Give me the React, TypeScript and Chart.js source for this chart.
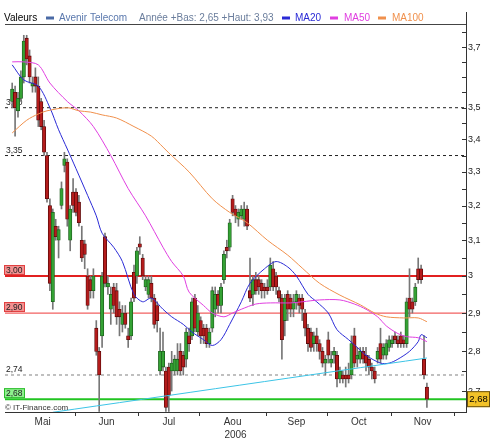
import React, { useEffect, useRef } from "react";
import { Chart, registerables } from "chart.js";

Chart.register(...registerables);

// ---- Daily candles (trading-day index 0 = early May 2006) ----
const opens = [
  3.52, 3.55, 3.49, 3.53, 3.60, 3.73, 3.67, 3.57, 3.60, 3.57,
  3.52, 3.44, 3.35, 3.20, 2.93, 3.14, 3.10, 3.20, 3.32, 3.33,
  3.10, 3.24, 3.24, 3.21, 3.10, 3.09, 3.00, 2.99, 2.96, 2.86,
  2.80, 2.84, 3.11, 2.97, 2.91, 2.97, 2.96, 2.91, 2.87, 2.90,
  2.84, 2.84, 3.01, 3.00, 3.09, 3.05, 2.97, 2.95, 2.98, 2.94,
  2.92, 2.75, 2.76, 2.75, 2.76, 2.75, 2.75, 2.75, 2.80, 2.79,
  2.78, 2.84, 2.84, 2.94, 2.85, 2.88, 2.86, 2.86, 2.82, 2.86,
  2.91, 2.95, 2.92, 2.99, 3.08, 3.08, 3.22, 3.19, 3.16, 3.17,
  3.16, 3.19, 2.96, 2.95, 2.99, 2.99, 2.98, 2.97, 2.97, 2.97,
  3.02, 3.00, 2.96, 2.94, 2.88, 2.95, 2.94, 2.91, 2.93, 2.94,
  2.94, 2.90, 2.86, 2.85, 2.82, 2.84, 2.82, 2.80, 2.77, 2.83,
  2.77, 2.79, 2.79, 2.73, 2.74, 2.74, 2.74, 2.74, 2.84, 2.78,
  2.78, 2.80, 2.79, 2.78, 2.76, 2.75, 2.78, 2.82, 2.79, 2.79,
  2.81, 2.82, 2.84, 2.83, 2.84, 2.83, 2.82, 2.94, 2.93, 2.93,
  3.02, 3.02, 2.78, 2.71,
];
const highs = [
  3.58, 3.57, 3.55, 3.62, 3.74, 3.74, 3.69, 3.60, 3.63, 3.60,
  3.53, 3.46, 3.36, 3.22, 3.19, 3.16, 3.14, 3.27, 3.36, 3.34,
  3.20, 3.28, 3.25, 3.23, 3.14, 3.10, 3.02, 3.00, 3.02, 2.88,
  2.81, 3.01, 3.12, 3.00, 2.97, 2.98, 2.98, 2.93, 2.92, 2.92,
  2.86, 2.94, 3.03, 3.08, 3.11, 3.06, 3.00, 3.00, 3.00, 2.95,
  2.93, 2.86, 2.85, 2.76, 2.77, 2.80, 2.79, 2.82, 2.82, 2.80,
  2.86, 2.86, 2.94, 2.95, 2.92, 2.89, 2.87, 2.87, 2.86, 2.97,
  2.97, 2.96, 2.98, 3.07, 3.10, 3.16, 3.23, 3.20, 3.19, 3.20,
  3.21, 3.20, 3.05, 3.00, 3.01, 3.00, 2.99, 2.98, 2.99, 3.05,
  3.04, 3.01, 2.97, 2.95, 2.95, 2.96, 2.95, 2.95, 2.96, 2.95,
  2.95, 2.91, 2.87, 2.86, 2.85, 2.86, 2.83, 2.81, 2.79, 2.85,
  2.80, 2.81, 2.80, 2.76, 2.75, 2.76, 2.77, 2.84, 2.86, 2.81,
  2.81, 2.81, 2.81, 2.79, 2.77, 2.76, 2.81, 2.86, 2.82, 2.83,
  2.84, 2.84, 2.85, 2.84, 2.85, 2.84, 2.94, 3.02, 2.94, 2.98,
  3.05, 3.03, 2.84, 2.72,
];
const lows = [
  3.50, 3.41, 3.47, 3.52, 3.58, 3.64, 3.58, 3.55, 3.55, 3.44,
  3.43, 3.35, 3.21, 2.96, 2.91, 3.10, 3.05, 3.19, 3.30, 3.14,
  3.07, 3.18, 3.17, 3.14, 3.04, 3.02, 2.91, 2.94, 2.94, 2.79,
  2.65, 2.81, 2.97, 2.95, 2.87, 2.90, 2.87, 2.84, 2.85, 2.86,
  2.81, 2.83, 2.93, 2.98, 3.06, 2.99, 2.96, 2.94, 2.93, 2.86,
  2.85, 2.74, 2.75, 2.65, 2.65, 2.70, 2.74, 2.74, 2.74, 2.74,
  2.76, 2.80, 2.83, 2.85, 2.84, 2.82, 2.82, 2.81, 2.81, 2.85,
  2.89, 2.90, 2.90, 2.98, 3.05, 3.07, 3.17, 3.15, 3.14, 3.16,
  3.14, 3.13, 2.93, 2.92, 2.95, 2.95, 2.94, 2.94, 2.95, 2.96,
  2.96, 2.95, 2.93, 2.78, 2.84, 2.88, 2.89, 2.89, 2.91, 2.90,
  2.88, 2.84, 2.80, 2.80, 2.80, 2.80, 2.78, 2.76, 2.74, 2.77,
  2.76, 2.77, 2.71, 2.72, 2.72, 2.71, 2.72, 2.73, 2.76, 2.76,
  2.77, 2.77, 2.75, 2.74, 2.73, 2.72, 2.77, 2.77, 2.78, 2.78,
  2.80, 2.81, 2.82, 2.81, 2.81, 2.81, 2.81, 2.89, 2.90, 2.92,
  2.98, 2.98, 2.73, 2.66,
];
const closes = [
  3.56, 3.50, 3.53, 3.60, 3.72, 3.66, 3.60, 3.58, 3.57, 3.46,
  3.44, 3.36, 3.22, 2.98, 3.18, 3.11, 3.13, 3.25, 3.34, 3.16,
  3.19, 3.20, 3.18, 3.15, 3.05, 3.06, 2.92, 2.96, 3.00, 2.80,
  2.74, 3.00, 2.98, 2.98, 2.95, 2.92, 2.89, 2.89, 2.90, 2.87,
  2.83, 2.93, 2.94, 3.07, 3.08, 3.00, 2.99, 2.99, 2.94, 2.87,
  2.88, 2.80, 2.80, 2.66, 2.69, 2.77, 2.78, 2.78, 2.75, 2.76,
  2.85, 2.82, 2.93, 2.86, 2.90, 2.84, 2.84, 2.82, 2.85, 2.96,
  2.95, 2.92, 2.97, 3.06, 3.07, 3.15, 3.18, 3.17, 3.18, 3.19,
  3.19, 3.14, 2.94, 2.99, 2.96, 2.97, 2.96, 2.96, 2.96, 3.03,
  2.97, 2.97, 2.94, 2.83, 2.94, 2.91, 2.91, 2.93, 2.95, 2.92,
  2.91, 2.86, 2.82, 2.81, 2.84, 2.82, 2.80, 2.77, 2.78, 2.79,
  2.78, 2.80, 2.73, 2.75, 2.73, 2.73, 2.73, 2.82, 2.77, 2.79,
  2.80, 2.78, 2.77, 2.76, 2.75, 2.73, 2.80, 2.78, 2.81, 2.82,
  2.83, 2.83, 2.83, 2.82, 2.82, 2.82, 2.93, 2.91, 2.91, 2.97,
  2.99, 2.99, 2.74, 2.68,
];

// ---- Moving averages ----
const ma20Idx = [0, 4, 9, 13, 16, 19, 22, 26, 29, 31, 35, 38, 42, 45, 48, 52, 55, 59, 62, 66, 69, 72, 75, 79, 82, 87, 91, 95, 98, 102, 105, 109, 112, 116, 119, 122, 127, 130, 133, 137, 140, 141, 143];
const ma20 = [3.64, 3.59, 3.57, 3.50, 3.43, 3.37, 3.31, 3.23, 3.17, 3.12, 3.08, 3.04, 2.95, 2.93, 2.94, 2.91, 2.89, 2.87, 2.85, 2.83, 2.815, 2.83, 2.87, 2.93, 2.98, 3.02, 3.04, 3.025, 3.0, 2.95, 2.93, 2.9, 2.856, 2.83, 2.81, 2.79, 2.77, 2.77, 2.78, 2.8, 2.825, 2.843, 2.835];
const ma50Idx = [0, 4, 9, 13, 19, 23, 28, 34, 40, 46, 52, 55, 59, 61, 66, 69, 73, 76, 79, 84, 89, 96, 100, 106, 113, 118, 122, 126, 129, 133, 136, 140, 143];
const ma50 = [3.65, 3.65, 3.64, 3.58, 3.52, 3.49, 3.44, 3.35, 3.25, 3.17, 3.08, 3.04, 3.0, 2.956, 2.92, 2.9, 2.89, 2.9, 2.91, 2.924, 2.927, 2.927, 2.93, 2.935, 2.935, 2.924, 2.91, 2.89, 2.866, 2.846, 2.838, 2.835, 2.825];
const ma100Idx = [0, 5, 9, 12, 19, 23, 27, 31, 36, 42, 48, 52, 54, 61, 69, 75, 81, 88, 95, 100, 106, 113, 120, 125, 129, 135, 140, 143];
const ma100 = [3.42, 3.46, 3.48, 3.49, 3.5, 3.49, 3.486, 3.477, 3.467, 3.44, 3.41, 3.376, 3.358, 3.3, 3.22, 3.18, 3.15, 3.1, 3.058, 3.022, 2.98, 2.948, 2.922, 2.9, 2.89, 2.887, 2.887, 2.877];

// ---- Trend line and horizontal levels ----
const trendIdx = [14, 143];
const trendVals = [2.648, 2.783];
const refLevels = [3.5, 3.35, 3.0, 2.9, 2.74, 2.68];
const refLabels = ["3,50", "3,35", "3,00", "2,90", "2,74", "2,68"];

// ---- Axes ----
const yMajorTicks = [2.7, 2.8, 2.9, 3.0, 3.1, 3.2, 3.3, 3.4, 3.5, 3.7];
const yMajorLabels = ["2,7", "2,8", "2,9", "3", "3,1", "3,2", "3,3", "3,4", "3,5", "3,7"];
const yMinorTicks = [2.75, 2.85, 2.95, 3.05, 3.15, 3.25, 3.35, 3.45, 3.55, 3.6, 3.65, 3.75];
const months = ["Mai", "Jun", "Jul", "Aou", "Sep", "Oct", "Nov"];
const monthCenters = [10.5, 32.5, 54, 76, 98, 119.5, 141.5];
const monthBounds = [21.5, 43.5, 64.5, 87.5, 108.5, 130.5, 152.5];
const yearLabel = "2006";

// ---- Legend texts ----
const legendTitle = "Valeurs";
const seriesName = "Avenir Telecom";
const rangeText = "Année +Bas: 2,65 +Haut: 3,93";
const maNames = ["MA20", "MA50", "MA100"];
const lastValue = 2.68;
const lastLabel = "2,68";
const copyright = "\u00a9 IT-Finance.com";

const X_MIN = -2.48;
const X_MAX = 156.48;
const Y_MIN = 2.6487;
const Y_MAX = 3.8206;

const FONT = '"Liberation Sans", Arial, sans-serif';
const GREEN = "#34a234";
const GREEN_EDGE = "#1c5e1c";
const RED = "#b41c1c";
const RED_EDGE = "#5a0a0a";
const MA20_C = "#2a2ad6";
const MA50_C = "#e03ee0";
const MA100_C = "#f0904c";

const refStyles = [
  { color: "#222", width: 1, dash: [3, 3], box: null },
  { color: "#222", width: 1, dash: [3, 3], box: null },
  { color: "#e22020", width: 2, dash: [], box: { fill: "#f39090", stroke: "#e04040" } },
  { color: "#f26060", width: 1.2, dash: [], box: { fill: "#f39090", stroke: "#e04040" } },
  { color: "#808080", width: 1, dash: [3, 3], box: null },
  { color: "#22c422", width: 2, dash: [], box: { fill: "#8ef08e", stroke: "#2cbc2c" } },
];

const overlay = {
  id: "overlay",
  beforeDatasetsDraw(chart: any) {
    const { ctx, scales } = chart;
    const ys = scales.y;
    ctx.save();
    ctx.font = `8.5px ${FONT}`;
    ctx.textBaseline = "alphabetic";
    refLevels.forEach((lv, i) => {
      const py = ys.getPixelForValue(lv);
      const st = refStyles[i];
      if (st.box) {
        ctx.fillStyle = st.box.fill;
        ctx.fillRect(4, py - 11, 21, 10);
        ctx.strokeStyle = st.box.stroke;
        ctx.lineWidth = 1;
        ctx.strokeRect(4.5, py - 10.5, 20, 9);
      }
      ctx.fillStyle = "#222";
      ctx.fillText(refLabels[i], 6, py - 3);
    });
    ctx.restore();
  },
  afterDraw(chart: any) {
    const { ctx, scales, chartArea } = chart;
    const ys = scales.y;
    const xs = scales.x;
    ctx.save();
    // y tick marks (inside)
    ctx.strokeStyle = "#333";
    ctx.lineWidth = 1;
    [...yMajorTicks, ...yMinorTicks].forEach((v) => {
      const py = Math.round(ys.getPixelForValue(v)) + 0.5;
      ctx.beginPath();
      ctx.moveTo(chartArea.right - 4, py);
      ctx.lineTo(chartArea.right, py);
      ctx.stroke();
    });
    // x month boundary tick marks
    monthBounds.forEach((b) => {
      const px = Math.round(xs.getPixelForValue(b)) + 0.5;
      ctx.beginPath();
      ctx.moveTo(px, chartArea.bottom);
      ctx.lineTo(px, chartArea.bottom + 4);
      ctx.stroke();
    });
    // legend
    ctx.font = `10px ${FONT}`;
    ctx.textBaseline = "alphabetic";
    ctx.fillStyle = "#000";
    ctx.fillText(legendTitle, 4, 21);
    ctx.fillStyle = "#4a6aa5";
    ctx.fillRect(46, 16.5, 8, 3);
    ctx.fillStyle = "#5a78ad";
    ctx.fillText(seriesName, 59, 21);
    ctx.fillStyle = "#6a7d9c";
    ctx.fillText(rangeText, 139, 21);
    const maCols = [MA20_C, MA50_C, MA100_C];
    const swX = [282, 330, 378];
    const txX = [295, 344, 392];
    maNames.forEach((n, i) => {
      ctx.fillStyle = maCols[i];
      ctx.fillRect(swX[i], 16.5, 8, 3);
      ctx.fillText(n, txX[i], 21);
    });
    ctx.strokeStyle = "#444";
    ctx.beginPath();
    ctx.moveTo(5, 24.5);
    ctx.lineTo(chartArea.right, 24.5);
    ctx.stroke();
    // copyright
    ctx.font = `8px ${FONT}`;
    ctx.fillStyle = "#333";
    ctx.fillText(copyright, 5, 410);
    // last value box at right
    const ly = ys.getPixelForValue(lastValue);
    ctx.fillStyle = "#f2c228";
    ctx.fillRect(chartArea.right + 1, ly - 8, 23, 16);
    ctx.strokeStyle = "#6a5210";
    ctx.strokeRect(chartArea.right + 1.5, ly - 7.5, 22, 15);
    ctx.fillStyle = "#000";
    ctx.font = `9.5px ${FONT}`;
    ctx.textAlign = "center";
    ctx.textBaseline = "middle";
    ctx.fillText(lastLabel, chartArea.right + 12.5, ly + 0.5);
    ctx.restore();
  },
};

export default function App() {
  const ref = useRef<HTMLCanvasElement | null>(null);
  useEffect(() => {
    if (!ref.current) return;
    const idx = opens.map((_, i) => i);
    const wickData = idx.map((i) => ({ x: i, y: [lows[i], highs[i]] }));
    const bodyData = idx.map((i) => ({ x: i, y: [opens[i], closes[i]] }));
    const up = idx.map((i) => closes[i] >= opens[i]);
    const bodyColors = up.map((u) => (u ? GREEN : RED));
    const edgeColors = up.map((u) => (u ? GREEN_EDGE : RED_EDGE));
    const pts = (ix: number[], vals: number[]) => ix.map((x, k) => ({ x, y: vals[k] }));

    const refDatasets = refLevels.map((lv, i) => ({
      type: "line" as const,
      data: [
        { x: X_MIN, y: lv },
        { x: X_MAX, y: lv },
      ],
      borderColor: refStyles[i].color,
      borderWidth: refStyles[i].width,
      borderDash: refStyles[i].dash,
      pointRadius: 0,
      fill: false,
      order: 6,
    }));

    const lineDs = (data: any[], color: string, order: number) => ({
      type: "line" as const,
      data,
      borderColor: color,
      borderWidth: 1,
      pointRadius: 0,
      tension: 0.3,
      fill: false,
      order,
    });

    const chart = new Chart(ref.current, {
      type: "bar",
      data: {
        datasets: [
          ...refDatasets,
          lineDs(pts(trendIdx, trendVals), "#3cc4e6", 1) as any,
          lineDs(pts(ma100Idx, ma100), MA100_C, 1) as any,
          lineDs(pts(ma50Idx, ma50), MA50_C, 1) as any,
          lineDs(pts(ma20Idx, ma20), MA20_C, 1) as any,
          {
            type: "bar" as const,
            data: wickData as any,
            backgroundColor: "#777",
            barThickness: 1,
            grouped: false,
            order: 4,
          },
          {
            type: "bar" as const,
            data: bodyData as any,
            backgroundColor: bodyColors,
            borderColor: edgeColors,
            borderWidth: 0.8,
            borderSkipped: false,
            barThickness: 3.4,
            minBarLength: 1,
            grouped: false,
            order: 3,
          },
        ] as any,
      },
      options: {
        animation: false,
        responsive: true,
        maintainAspectRatio: false,
        layout: { padding: { left: 5, top: 12, right: 0, bottom: 0 } },
        plugins: { legend: { display: false }, tooltip: { enabled: false } },
        scales: {
          x: {
            type: "linear",
            min: X_MIN,
            max: X_MAX,
            offset: false,
            grid: { display: false, drawTicks: false },
            border: { display: true, color: "#333", width: 1 },
            afterBuildTicks: (s: any) => {
              s.ticks = monthCenters.map((v) => ({ value: v }));
            },
            afterFit: (s: any) => {
              s.height = 31;
            },
            ticks: {
              autoSkip: false,
              maxRotation: 0,
              padding: 4,
              color: "#333",
              font: { family: FONT, size: 10 },
              callback: (v: any) => {
                const k = monthCenters.findIndex((c) => Math.abs(c - Number(v)) < 1e-6);
                return k >= 0 ? months[k] : "";
              },
            },
            title: {
              display: true,
              text: yearLabel,
              color: "#333",
              font: { family: FONT, size: 10 },
              padding: { top: 0, bottom: 2 },
            },
          },
          y: {
            type: "logarithmic",
            position: "right",
            min: Y_MIN,
            max: Y_MAX,
            grid: { display: false, drawTicks: false },
            border: { display: true, color: "#333", width: 1 },
            afterBuildTicks: (s: any) => {
              s.ticks = yMajorTicks.map((v) => ({ value: v }));
            },
            afterFit: (s: any) => {
              s.width = 34;
            },
            ticks: {
              autoSkip: false,
              padding: 2,
              color: "#222",
              font: { family: FONT, size: 9 },
              callback: (v: any) => {
                const k = yMajorTicks.findIndex((c) => Math.abs(c - Number(v)) < 1e-6);
                return k >= 0 ? yMajorLabels[k] : "";
              },
            },
          },
        },
      } as any,
      plugins: [overlay],
    });
    return () => chart.destroy();
  }, []);

  return (
    <div style={{ position: "absolute", left: 0, top: 0, width: 500, height: 443, background: "#fff" }}>
      <canvas ref={ref} />
    </div>
  );
}
